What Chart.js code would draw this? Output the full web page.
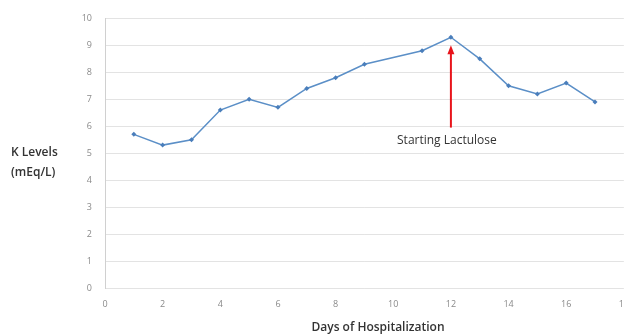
<!DOCTYPE html>
<html>
<head>
<meta charset="utf-8">
<script src="https://cdn.jsdelivr.net/npm/chart.js@4"></script>
<style>
  html, body { margin: 0; padding: 0; background: #fff; overflow: hidden; }
  #wrap { width: 640px; height: 336px; }
</style>
</head>
<body>
<div id="wrap"><canvas id="chart-k"></canvas></div>
<script>
//*** DATA ***//
const days = [1, 2, 3, 4, 5, 6, 7, 8, 9, 11, 12, 13, 14, 15, 16, 17];
const kLevels = [5.7, 5.3, 5.5, 6.6, 7.0, 6.7, 7.4, 7.8, 8.3, 8.8, 9.3, 8.5, 7.5, 7.2, 7.6, 6.9];
const xTicks = [0, 2, 4, 6, 8, 10, 12, 14, 16, 18];
const yTicks = [0, 1, 2, 3, 4, 5, 6, 7, 8, 9, 10];
const lactuloseDay = 12;
const arrowFrom = 5.95;
const arrowTo = 9.0;
const yTitle = ['K Levels', '(mEq/L)'];
const xTitle = 'Days of Hospitalization';
const noteText = 'Starting Lactulose';

//*** PLUGIN: titles + arrow ***//
const extras = {
    id: 'extras',
    afterDraw(chart) {
        const { ctx, scales: { x, y } } = chart;
        ctx.save();

        // red arrow
        const ax = x.getPixelForValue(lactuloseDay);
        const y0 = y.getPixelForValue(arrowFrom);
        const y1 = y.getPixelForValue(arrowTo);
        ctx.strokeStyle = '#e8141b';
        ctx.fillStyle = '#e8141b';
        ctx.lineWidth = 2;
        ctx.beginPath();
        ctx.moveTo(ax, y0);
        ctx.lineTo(ax, y1 + 6);
        ctx.stroke();
        ctx.beginPath();
        ctx.moveTo(ax, y1);
        ctx.lineTo(ax - 3.5, y1 + 9);
        ctx.lineTo(ax + 3.5, y1 + 9);
        ctx.closePath();
        ctx.fill();

        // note
        ctx.fillStyle = '#333';
        ctx.font = '12px "Open Sans"';
        ctx.textAlign = 'center';
        ctx.textBaseline = 'middle';
        ctx.fillText(noteText, ax - 4, y0 + 13);

        // y title
        ctx.font = '600 12px "Open Sans"';
        ctx.textAlign = 'left';
        ctx.fillText(yTitle[0], 11, 153);
        ctx.fillText(yTitle[1], 11, 173);

        // x title
        ctx.textAlign = 'center';
        ctx.fillText(xTitle, 378, 328);

        ctx.restore();
    }
};

//*** CHART ***//
new Chart(document.getElementById('chart-k'), {
    type: 'line',
    data: {
        datasets: [{
            label: 'K',
            data: days.map((d, i) => ({ x: d, y: kLevels[i] })),
            borderColor: '#5b8fc7',
            backgroundColor: '#4a7ebb',
            borderWidth: 1.5,
            pointStyle: 'rectRot',
            pointRadius: 2.5,
            pointBorderWidth: 0,
            tension: 0
        }]
    },
    plugins: [extras],
    options: {
        responsive: true,
        maintainAspectRatio: false,
        animation: false,
        events: [],
        layout: { padding: { left: 0, top: 16, right: 15, bottom: 0 } },
        plugins: {
            legend: { display: false },
            tooltip: { enabled: false }
        },
        scales: {
            x: {
                type: 'linear',
                min: 0,
                max: 18,
                afterBuildTicks: s => { s.ticks = xTicks.map(v => ({ value: v })); },
                afterFit: s => { s.height = 48; },
                grid: { display: false, drawTicks: false },
                border: { display: false },
                ticks: { color: '#8a8a8a', font: { size: 9, family: 'Open Sans' }, padding: 11, maxRotation: 0 }
            },
            y: {
                min: 0,
                max: 10,
                afterBuildTicks: s => { s.ticks = yTicks.map(v => ({ value: v })); },
                afterFit: s => { s.width = 105; },
                grid: { color: '#e3e3e3', drawTicks: false },
                border: { color: '#d0d0d0' },
                ticks: { color: '#8a8a8a', font: { size: 9, family: 'Open Sans' }, padding: 13 }
            }
        }
    }
});
</script>
</body>
</html>
